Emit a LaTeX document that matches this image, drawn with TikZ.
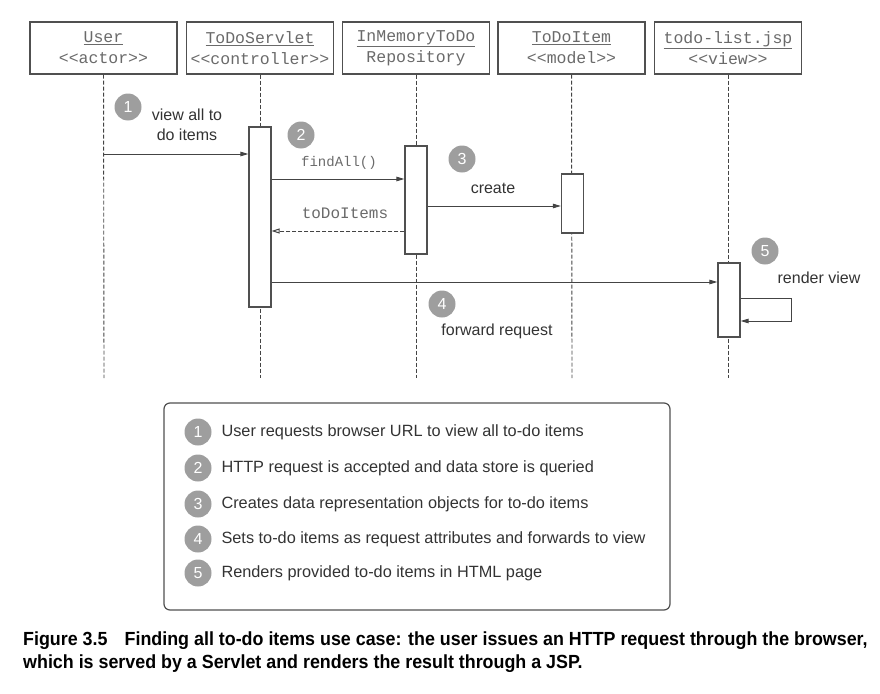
\documentclass[tikz,border=0pt]{standalone}
\usepackage{fontspec}
\setsansfont{Liberation Sans}
\setmonofont{Liberation Mono}
\newfontfamily\capfont[FakeStretch=0.94]{Liberation Sans}
\usetikzlibrary{arrows.meta}
\definecolor{linegray}{HTML}{444444}
\definecolor{boxgray}{HTML}{505050}
\definecolor{headtext}{HTML}{6A6A6A}
\definecolor{lbltext}{HTML}{333333}
\definecolor{numgray}{HTML}{9E9E9E}
\tikzset{
    head/.style = {rectangle, draw=boxgray, line width=1.2pt, minimum width=147pt, minimum height=52pt, align=center, text=headtext, font=\ttfamily\fontsize{16.5}{21}\selectfont},
    act/.style = {rectangle, draw=boxgray, line width=1.2pt, fill=white, minimum width=22pt, inner sep=0pt},
    lifeline/.style = {line width=0.9pt, draw=linegray, dash pattern=on 4pt off 2pt},
    msg/.style = {-{Triangle[length=8pt,width=4.5pt]}, line width=1pt, draw=linegray},
    msgret/.style = {-{Triangle[open,length=8pt,width=5pt]}, line width=1pt, draw=linegray, dash pattern=on 4pt off 2pt}, % back
    mynum/.style = {circle, fill=numgray, text=white, minimum size=27pt, inner sep=0pt, font=\sffamily\fontsize{16}{16}\selectfont},
    lbl/.style = {align=center, text=lbltext, font=\sffamily\fontsize{16}{20}\selectfont},
    codelbl/.style = {text=headtext, font=\ttfamily\fontsize{14}{16}\selectfont},
    legendbox/.style = {rectangle, rounded corners=6pt, draw=boxgray, line width=1.2pt, minimum width=506pt, minimum height=207pt},
    legtext/.style = {anchor=west, text=lbltext, font=\sffamily\fontsize{16.3}{20}\selectfont},
    caption/.style = {anchor=north west, align=left, inner sep=0pt, font=\capfont\bfseries\fontsize{19}{23}\selectfont}
}
\begin{document}
\begin{tikzpicture}[x=1pt,y=-1pt]
\useasboundingbox (0,0) rectangle (880,693);

% lifeline heads
\node[head] at (103.5,48) (user) {\underline{User}\\<{}<actor>{}>};
\node[head] at (260.0,48) (servlet) {\underline{ToDoServlet}\\<{}<controller>{}>};
\node[head] at (416.0,48) (repo) {\underline{InMemoryToDo}\\Repository};
\node[head] at (571.5,48) (item) {\underline{ToDoItem}\\<{}<model>{}>};
\node[head] at (728.0,48) (jsp) {\underline{todo-list.jsp}\\<{}<view>{}>};

\coordinate (userend) at (104,378);
\coordinate (servletend) at (260,378);
\coordinate (repoend) at (416,378);
\coordinate (itemend) at (572,378);
\coordinate (jspend) at (728,378);

\draw[lifeline] (user) -- (userend);
\draw[lifeline] (servlet) -- (servletend);
\draw[lifeline] (repo) -- (repoend);
\draw[lifeline] (item) -- (itemend);
\draw[lifeline] (jsp) -- (jspend);

% activations
\node[act, minimum height=180pt] at (260.0,217.0) (servact) {};
\node[act, minimum height=108pt] at (416.0,200.0) (repoact) {};
\node[act, minimum height=59pt] at (572.5,203.5) (itemact) {};
\node[act, minimum height=74pt] at (729.0,300.0) (jspact) {};

% message levels
\coordinate (y1) at (0,154);
\coordinate (y2) at (0,179);
\coordinate (y2r) at (0,231);
\coordinate (y3) at (0,206);
\coordinate (y4) at (0,282);
\coordinate (y5a) at (0,298);
\coordinate (y5b) at (0,321);

\draw[msg] (userend |- y1) -- (servact.west |- y1);
\draw[msg] (servact.east |- y2) -- (repoact.west |- y2);
\draw[msgret] (repoact.west |- y2r) -- (servact.east |- y2r);
\draw[msg] (repoact.east |- y3) -- (itemact.west |- y3);
\draw[msg] (servact.east |- y4) -- (jspact.west |- y4);
\draw[msg] (jspact.east |- y5a) -- ++(51,0) |- (jspact.east |- y5b);

\node[mynum] at (128,107) (n1) {1};
\node[mynum] at (301,135) (n2) {2};
\node[mynum] at (462,159) (n3) {3};
\node[mynum] at (442,304) (n4) {4};
\node[mynum] at (765,251) (n5) {5};

\node[lbl] at (187,125) (l1) {view all to\\do items};
\node[codelbl] at (339,163) (l2) {findAll()};
\node[codelbl, font=\ttfamily\fontsize{16}{18}\selectfont] at (345,213) (l2r) {toDoItems};
\node[lbl] at (493,188) (l3) {create};
\node[lbl] at (497,331) (l4) {forward request};
\node[lbl] at (819,278) (l5) {render view};

% legend
\node[legendbox] at (417,506.5) (legend) {};
\node[mynum] at (198,432) (k1) {1};
\node[mynum] at (198,468) (k2) {2};
\node[mynum] at (198,504) (k3) {3};
\node[mynum] at (198,539) (k4) {4};
\node[mynum] at (198,573) (k5) {5};
\node[legtext] at (218,432) (t1) {User requests browser URL to view all to-do items};
\node[legtext] at (218,468) (t2) {HTTP request is accepted and data store is queried};
\node[legtext] at (218,504) (t3) {Creates data representation objects for to-do items};
\node[legtext] at (218,539) (t4) {Sets to-do items as request attributes and forwards to view};
\node[legtext] at (218,573) (t5) {Renders provided to-do items in HTML page};

\node[caption] at (23,632) (cap) {Figure 3.5\hspace{0.9em}Finding all to-do items use case: the user issues an HTTP request through the browser,\\which is served by a Servlet and renders the result through a JSP.};

\end{tikzpicture}
\end{document}
